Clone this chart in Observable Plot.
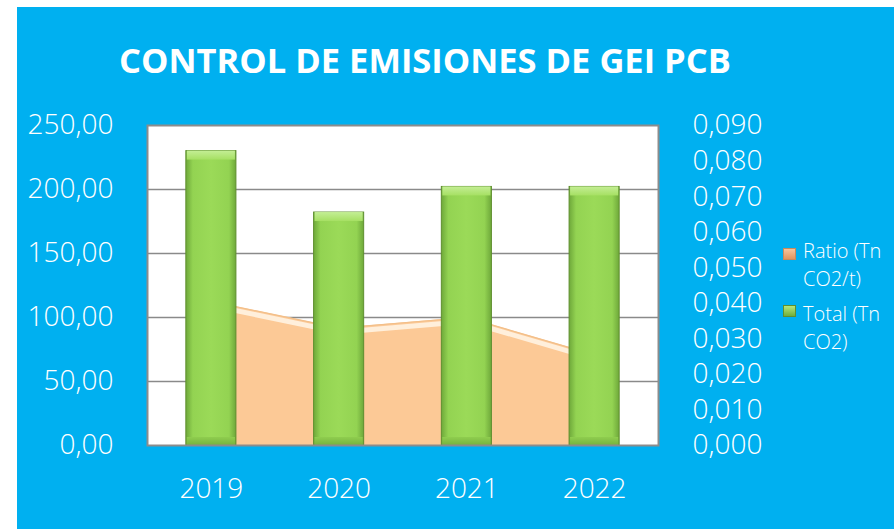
<!DOCTYPE html>
<html><head><meta charset="utf-8">
<script src="https://cdn.jsdelivr.net/npm/d3@7"></script>
<script src="https://cdn.jsdelivr.net/npm/@observablehq/plot@0.6"></script>
<style>
body{margin:0;background:#fff;width:894px;height:529px;overflow:hidden;font-family:"Open Sans",sans-serif;}
#panel{position:absolute;left:17px;top:7px;width:877px;height:522px;background:#00B0F0;}
#title{position:absolute;left:0;top:35px;width:816px;text-align:center;color:#fff;font-weight:700;font-size:34.5px;line-height:35px;white-space:nowrap;}
#chart{position:absolute;left:0;top:0;}
.sw{position:absolute;width:13px;height:12px;box-sizing:border-box;}
.lt{position:absolute;width:92px;color:#fff;font-size:20px;line-height:28px;font-weight:350;}
</style></head>
<body>
<div id="panel">
  <div id="title">CONTROL DE EMISIONES DE GEI PCB</div>
  <div id="chart"></div>
  <div class="sw" style="left:766px;top:241px;background:linear-gradient(#f6c49a,#e0955f);border:1px solid #c98a5c"></div>
  <div class="lt" style="left:786px;top:230px">Ratio (Tn CO2/t)</div>
  <div class="sw" style="left:766px;top:298px;background:linear-gradient(#b6e67c,#6fae3a);border:1px solid #5f8f2f"></div>
  <div class="lt" style="left:786px;top:293px">Total (Tn CO2)</div>
</div>
<script>
const years = [2019, 2020, 2021, 2022];
const totals = [230, 182, 202, 202];          // Total (Tn CO2), left axis
const ratios = [0.0405, 0.0330, 0.0360, 0.0255]; // Ratio (Tn CO2/t), right axis
const leftTicks = [0, 50, 100, 150, 200, 250];
const rightTicks = [0, 0.01, 0.02, 0.03, 0.04, 0.05, 0.06, 0.07, 0.08, 0.09];
const leftMax = 250, rightMax = 0.09;
const k = leftMax / rightMax;

const data = years.map((y, i) => ({year: y, total: totals[i], ratio: ratios[i]}));
const half = 0.196;

const svg = Plot.plot({
  width: 877, height: 522,
  marginLeft: 130, marginRight: 236, marginTop: 118, marginBottom: 84,
  style: {background: "transparent", color: "#fff", fontFamily: "Open Sans, sans-serif", fontWeight: 350, overflow: "visible"},
  x: {domain: [2018.5, 2022.5]},
  y: {domain: [0, leftMax]},
  marks: [
    Plot.frame({fill: "#fff", stroke: null}),
    Plot.gridY(leftTicks.filter(t => t > 0 && t < leftMax), {stroke: "#8a8a8a", strokeOpacity: 1, strokeWidth: 1.5}),
    Plot.areaY(data, {x: "year", y: d => d.ratio * k, fill: "#FCC996"}),
    Plot.lineY(data, {x: "year", y: d => d.ratio * k, stroke: "#fff3e2", strokeWidth: 5, strokeOpacity: 0.9, dy: 4}),
    Plot.lineY(data, {x: "year", y: d => d.ratio * k, stroke: "#f2bf8a", strokeWidth: 1.2}),
    Plot.rect(data, {x1: d => d.year - half, x2: d => d.year + half, y1: 0, y2: "total", fill: "url(#barGrad)", stroke: "#5f8f2f", strokeWidth: 1}),
    Plot.rect(data, {x1: d => d.year - half, x2: d => d.year + half, y1: "total", y2: "total", insetBottom: -9, insetLeft: 1, insetRight: 1, fill: "url(#topGrad)"}),
    Plot.rect(data, {x1: d => d.year - half, x2: d => d.year + half, y1: 0, y2: 0, insetTop: -8, insetLeft: 1, insetRight: 1, fill: "url(#botGrad)"}),
    Plot.frame({stroke: "#8c8c8c", strokeWidth: 2}),
    Plot.axisY(leftTicks, {anchor: "left", tickSize: 0, tickPadding: 34, fontSize: 28, fill: "#fff",
      tickFormat: d => d.toFixed(2).replace(".", ","), label: null}),
    Plot.axisY(rightTicks.map(r => r * k), {anchor: "right", tickSize: 0, tickPadding: 34, fontSize: 28, fill: "#fff",
      tickFormat: v => (v / k).toFixed(3).replace(".", ","), label: null}),
    Plot.axisX(years, {anchor: "bottom", tickSize: 0, tickPadding: 33, fontSize: 28, fill: "#fff",
      tickFormat: d => String(d), label: null})
  ]
});

const defs = d3.select(svg).insert("defs", ":first-child");
const g1 = defs.append("linearGradient").attr("id", "barGrad").attr("x1", "0").attr("x2", "1").attr("y1", "0").attr("y2", "0");
[[0, "#6ea83a"], [0.14, "#93d352"], [0.5, "#9bda58"], [0.86, "#93d352"], [1, "#6ea83a"]]
  .forEach(([o, c]) => g1.append("stop").attr("offset", o).attr("stop-color", c));
const g2 = defs.append("linearGradient").attr("id", "topGrad").attr("x1", "0").attr("x2", "0").attr("y1", "0").attr("y2", "1");
[[0, "#c4ee95"], [1, "#a6e063"]].forEach(([o, c]) => g2.append("stop").attr("offset", o).attr("stop-color", c));
const g3 = defs.append("linearGradient").attr("id", "botGrad").attr("x1", "0").attr("x2", "0").attr("y1", "0").attr("y2", "1");
[[0, "#8fcd4f"], [1, "#76b33e"]].forEach(([o, c]) => g3.append("stop").attr("offset", o).attr("stop-color", c));

document.getElementById("chart").appendChild(svg);
</script>
</body></html>
